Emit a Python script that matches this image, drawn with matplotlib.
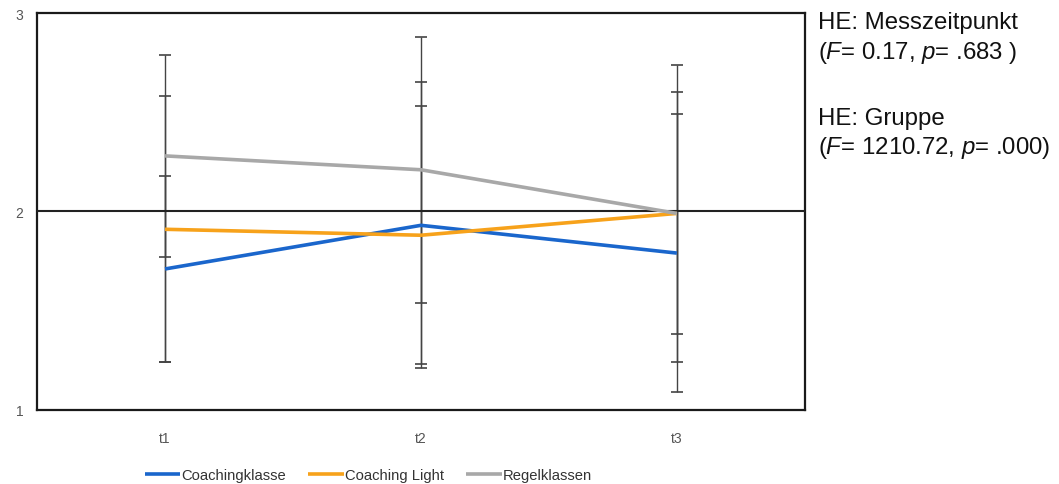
import matplotlib
matplotlib.use("Agg")
import matplotlib.pyplot as plt
import numpy as np

plt.rcParams['font.family'] = ['Liberation Sans', 'DejaVu Sans']
plt.rcParams['mathtext.fontset'] = 'custom'
plt.rcParams['mathtext.rm'] = 'Liberation Sans'
plt.rcParams['mathtext.it'] = 'Liberation Sans:italic'

# Messzeitpunkte
zeitpunkte = ["t1", "t2", "t3"]

# Mittelwerte je Gruppe
coachingklasse = [1.71, 1.93, 1.79]
coaching_light = [1.91, 1.88, 1.99]
regelklassen = [2.28, 2.21, 1.99]

# Standardabweichungen je Gruppe
sd_coachingklasse = [0.47, 0.72, 0.70]
sd_coaching_light = [0.67, 0.65, 0.75]
sd_regelklassen = [0.51, 0.67, 0.61]

gruppen = ["Coachingklasse", "Coaching Light", "Regelklassen"]
farben = ["#1a66cc", "#f7a21b", "#a8a8a8"]

fig = plt.figure(figsize=(10.59, 4.85), dpi=100)
ax = fig.add_axes([0.035, 0.153, 0.725, 0.818])

x = np.arange(len(zeitpunkte)) + 0.5
mittel = [coachingklasse, coaching_light, regelklassen]
sds = [sd_coachingklasse, sd_coaching_light, sd_regelklassen]

# Fehlerbalken hinter den Linien
for m, s in zip(mittel, sds):
    ax.errorbar(x, m, yerr=s, fmt='none', ecolor='#444444', elinewidth=1.0,
                capsize=4, capthick=1.2, zorder=2)

# Referenzlinie bei 2
ax.axhline(2, color='#222222', linewidth=1.5, zorder=3)

for m, name, c in zip(mittel, gruppen, farben):
    ax.plot(x, m, color=c, linewidth=2.6, label=name, zorder=4,
            solid_capstyle='butt')

ax.set_xlim(0, 3)
ax.set_ylim(1, 3)
ax.set_yticks([1, 2, 3])
ax.set_xticks(x)
ax.set_xticklabels(zeitpunkte)
ax.tick_params(axis='both', length=0, labelsize=10, labelcolor='#555555')
ax.tick_params(axis='y', pad=10)
ax.tick_params(axis='x', pad=15)
for sp in ax.spines.values():
    sp.set_color('#1a1a1a')
    sp.set_linewidth(1.6)

handles, labels = ax.get_legend_handles_labels()
leg = fig.legend(handles, labels, loc='center', bbox_to_anchor=(0.348, 0.018),
                 ncol=3, frameon=False, fontsize=10.6, handlelength=2.4,
                 handletextpad=0.1, columnspacing=1.5)
for t in leg.get_texts():
    t.set_color('#333333')

fs = 17.3
fig.text(0.772, 0.953, "HE: Messzeitpunkt", fontsize=fs, color='#111111',
         va='center', ha='left')
fig.text(0.772, 0.891, r"($\mathit{F}$= 0.17, $\mathit{p}$= .683 )", fontsize=fs,
         color='#111111', va='center', ha='left')
fig.text(0.772, 0.755, "HE: Gruppe", fontsize=fs, color='#111111',
         va='center', ha='left')
fig.text(0.772, 0.695, r"($\mathit{F}$= 1210.72, $\mathit{p}$= .000)", fontsize=fs,
         color='#111111', va='center', ha='left')

fig.savefig("out.png", dpi=100)
